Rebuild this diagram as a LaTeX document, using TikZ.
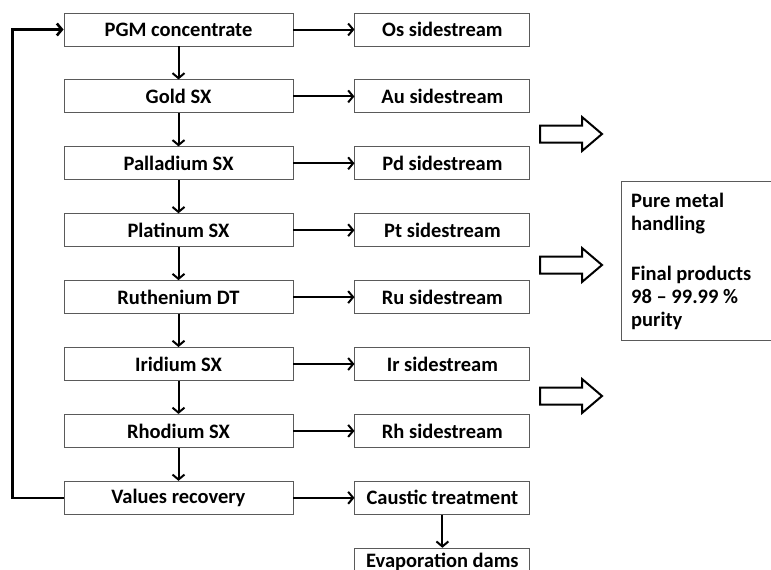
\documentclass[tikz,border=0pt]{standalone}
\usepackage{fontspec}
\setmainfont{Carlito}
\usepackage{xcolor}
\usetikzlibrary{arrows.meta, positioning}
\definecolor{BoxLine}{HTML}{5A5A5A}
\definecolor{FlowInk}{HTML}{000000}

\begin{document}
\begin{tikzpicture}[
    x=1pt, y=-1pt,
    font=\bfseries\fontsize{20.5}{23}\selectfont,
    stage/.style={
      draw=BoxLine,
      line width=0.9pt,
      minimum width=229pt,
      minimum height=33pt,
      inner sep=0pt,
    },
    side/.style={stage, minimum width=175pt},
    flow/.style={draw=FlowInk, line width=2pt, -{Straight Barb[length=5pt,width=12pt]}},
    bigarrow/.style={draw=FlowInk, line width=2pt, fill=white, line join=miter},
    node distance=33pt and 61pt,
  ]
    \useasboundingbox (0,0) rectangle (771,570);
    \clip (0,0) rectangle (771,570);

    % main separation train
    \node[stage] (pgm) at (178.5,29.5) {PGM concentrate};
    \node[stage, below=of pgm] (gold) {Gold SX};
    \node[stage, below=of gold] (pall) {Palladium SX};
    \node[stage, below=of pall] (plat) {Platinum SX};
    \node[stage, below=of plat] (ruth) {Ruthenium DT};
    \node[stage, below=of ruth] (irid) {Iridium SX};
    \node[stage, below=of irid] (rhod) {Rhodium SX};
    \node[stage, below=of rhod] (vals) {Values recovery};

    % sidestreams
    \node[side, right=of pgm] (os) {Os sidestream};
    \node[side, right=of gold] (au) {Au sidestream};
    \node[side, right=of pall] (pd) {Pd sidestream};
    \node[side, right=of plat] (pt) {Pt sidestream};
    \node[side, right=of ruth] (ru) {Ru sidestream};
    \node[side, right=of irid] (ir) {Ir sidestream};
    \node[side, right=of rhod] (rh) {Rh sidestream};
    \node[side, right=of vals] (caus) {Caustic treatment};
    \node[side, below=of caus, text depth=9pt] (evap) {Evaporation dams};

    % pure metal box
    \node[draw=BoxLine, line width=0.9pt, minimum width=175pt, minimum height=159pt,
      anchor=north west, inner sep=0pt] (pure) at (621,181) {};
    \node[anchor=north west, align=left, inner sep=0pt]
      (puretext) at ([xshift=10pt,yshift=-12pt]pure.north west)
      {Pure metal\\handling\\[27pt]Final products\\98 – 99.99 \%\\purity};

    \foreach \a/\b in {pgm/gold, gold/pall, pall/plat, plat/ruth, ruth/irid, irid/rhod, rhod/vals, caus/evap}
      \draw[flow] (\a) -- (\b);
    \foreach \a/\b in {pgm/os, gold/au, pall/pd, plat/pt, ruth/ru, irid/ir, rhod/rh, vals/caus}
      \draw[flow] (\a) -- (\b);

    % recycle loop
    \draw[flow, line width=2.6pt] (vals.west) -- ++(-51,0) |- (pgm.west);

    % block arrows towards pure metal handling
    \foreach \ay in {134,265,396}
      \draw[bigarrow] (540,\ay-8.5) -- (582,\ay-8.5) -- (582,\ay-17) -- (602,\ay)
        -- (582,\ay+17) -- (582,\ay+8.5) -- (540,\ay+8.5) -- cycle;
\end{tikzpicture}
\end{document}
